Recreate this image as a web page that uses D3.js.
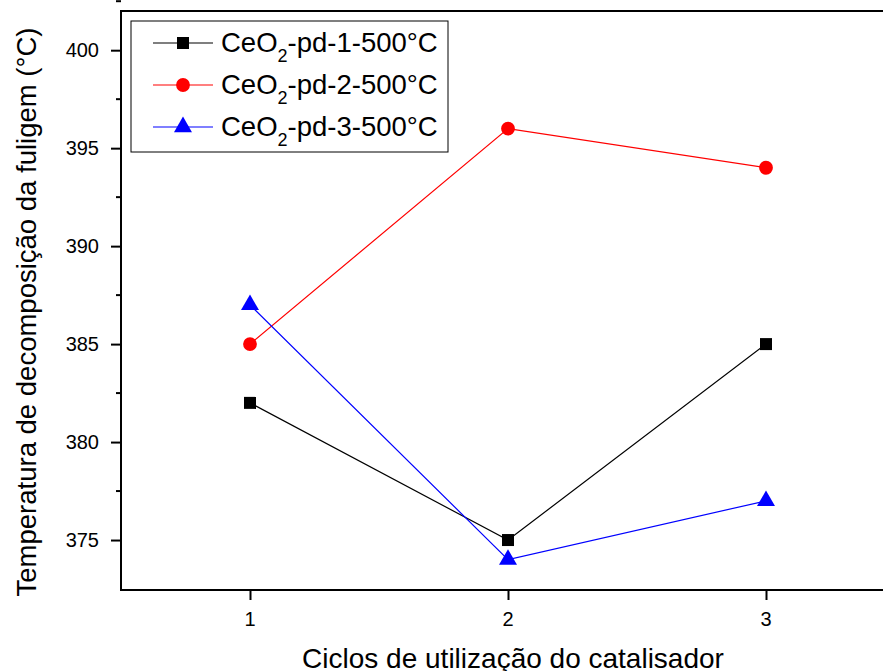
<!DOCTYPE html>
<html lang="en">
<head>
<meta charset="UTF-8">
<title>Temperatura de decomposição da fuligem</title>
<script src="https://d3js.org/d3.v7.min.js"></script>
<style>
  body { margin: 0; background: #fff; }
  svg { display: block; font-family: Arial, "Liberation Sans", sans-serif; }
</style>
</head>
<body>
<script>
// data
const cycles = [1, 2, 3];
const seriesNames = ["pd-1-500°C", "pd-2-500°C", "pd-3-500°C"];
const pd1 = [382, 375, 385];
const pd2 = [385, 396, 394];
const pd3 = [387, 374, 377];
const yTicks = [375, 380, 385, 390, 395, 400];

const width = 883, height = 671;
const svg = d3.select("body").append("svg")
  .attr("width", width).attr("height", height);

const x = d3.scaleLinear().domain([0.5, 3.5]).range([121, 895]);
const y = d3.scaleLinear().domain([372.45, 402]).range([590, 11]);

const series = [
  { name: seriesNames[0], values: pd1, color: "#000000", symbol: d3.symbolSquare, size: 144 },
  { name: seriesNames[1], values: pd2, color: "#ff0000", symbol: d3.symbolCircle, size: 150 },
  { name: seriesNames[2], values: pd3, color: "#0000ff", symbol: d3.symbolTriangle, size: 140 }
];

// frame
svg.append("rect")
  .attr("x", x(0.5)).attr("y", y(402))
  .attr("width", x(3.5) - x(0.5)).attr("height", y(372.45) - y(402))
  .attr("fill", "none").attr("stroke", "#000").attr("stroke-width", 2);

// y axis: ticks from the axis generator, labels drawn with the scale
const yAxis = svg.append("g")
  .attr("transform", `translate(${x(0.5)},0)`)
  .call(d3.axisLeft(y).tickValues(yTicks).tickSize(10).tickFormat(""));
yAxis.select(".domain").remove();
yAxis.selectAll(".tick line").attr("stroke-width", 2);
svg.append("g").selectAll("text")
  .data(yTicks)
  .join("text")
  .attr("x", x(0.5) - 22).attr("y", d => y(d) + 7)
  .attr("text-anchor", "end")
  .style("font-size", "20px")
  .text(d => d);
// minor ticks
svg.append("g").selectAll("line")
  .data(yTicks.map(v => v + 2.5))
  .join("line")
  .attr("x1", x(0.5) - 5).attr("x2", x(0.5))
  .attr("y1", d => y(d)).attr("y2", d => y(d))
  .attr("stroke", "#000").attr("stroke-width", 2);

// x axis
const xAxis = svg.append("g")
  .attr("transform", `translate(0,${y(372.45)})`)
  .call(d3.axisBottom(x).tickValues(cycles).tickSize(10).tickFormat(""));
xAxis.select(".domain").remove();
xAxis.selectAll(".tick line").attr("stroke-width", 2);
svg.append("g").selectAll("text")
  .data(cycles)
  .join("text")
  .attr("x", d => x(d)).attr("y", 626)
  .attr("text-anchor", "middle")
  .style("font-size", "20px")
  .text(d => d);

// axis titles
svg.append("text")
  .attr("x", 513).attr("y", 668)
  .attr("text-anchor", "middle").style("font-size", "28px")
  .text("Ciclos de utilização do catalisador");
svg.append("text")
  .attr("transform", "translate(36,312) rotate(-90)")
  .attr("text-anchor", "middle").style("font-size", "27.5px")
  .text("Temperatura de decomposição da fuligem (°C)");

// lines and markers
const line = d3.line().x((d, i) => x(cycles[i])).y(d => y(d));
series.forEach(s => {
  svg.append("path")
    .attr("d", line(s.values))
    .attr("fill", "none").attr("stroke", s.color).attr("stroke-width", 1.2);
  svg.append("g").selectAll("path")
    .data(s.values)
    .join("path")
    .attr("transform", (d, i) => `translate(${x(cycles[i])},${y(d)})`)
    .attr("d", d3.symbol().type(s.symbol).size(s.size))
    .attr("fill", s.color);
});

// legend
const legend = svg.append("g");
legend.append("rect")
  .attr("x", 131).attr("y", 21).attr("width", 317).attr("height", 131)
  .attr("fill", "#fff").attr("stroke", "#000").attr("stroke-width", 1);
series.forEach((s, i) => {
  const ly = 43 + i * 42;
  legend.append("line")
    .attr("x1", 153).attr("x2", 213).attr("y1", ly).attr("y2", ly)
    .attr("stroke", s.color).attr("stroke-width", 1.2);
  legend.append("path")
    .attr("transform", `translate(183,${ly})`)
    .attr("d", d3.symbol().type(s.symbol).size(s.size))
    .attr("fill", s.color);
  const t = legend.append("text")
    .attr("x", 221).attr("y", ly + 9).style("font-size", "27.5px");
  t.append("tspan").text("CeO");
  t.append("tspan").style("font-size", "18px").attr("dy", 10).text("2");
  t.append("tspan").attr("dy", -10).text("-" + s.name);
});
</script>
</body>
</html>
